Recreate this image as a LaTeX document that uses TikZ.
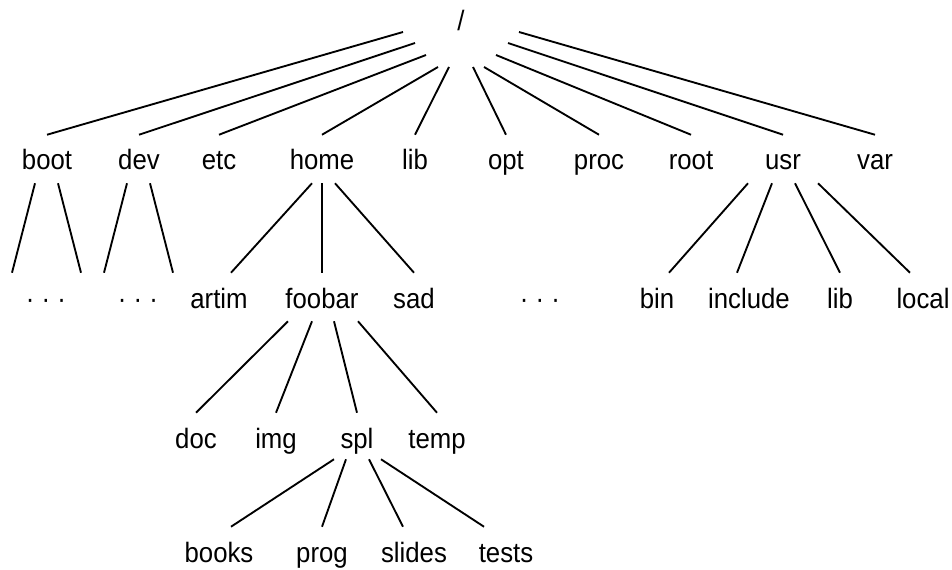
\documentclass[tikz,border=0pt]{standalone}
\usepackage{fontspec}
\setmainfont{Liberation Sans}[FakeStretch=0.92]

\begin{document}
\begin{tikzpicture}[x=0.75pt,y=0.75pt,yscale=-1,xscale=1,
  dir/.style={anchor=base,inner sep=0pt,text height=26.25pt,text depth=9.75pt,font=\fontsize{21}{25}\selectfont},
  link/.style={line width=1.4pt}]
%set diagram left start at 0, and has height of 570
\useasboundingbox (0,0) rectangle (952,570);

% Text Node: top
\node[dir] (slash) at (461,31) {/};
% Text Node: first level
\node[dir] (boot) at (47,170) {boot};
\node[dir] (dev) at (139,170) {dev};
\node[dir] (etc) at (219,170) {etc};
\node[dir] (home) at (322,170) {home};
\node[dir] (libA) at (415,170) {lib};
\node[dir] (opt) at (506,170) {opt};
\node[dir] (proc) at (599,170) {proc};
\node[dir] (rootdir) at (691,170) {root};
\node[dir] (usr) at (783,170) {usr};
\node[dir] (var) at (875,170) {var};
% Text Node: second level
\node[dir] (dotsboot) at (46,308) {· · ·};
\node[dir] (dotsdev) at (138,308) {· · ·};
\node[dir] (artim) at (219,308) {artim};
\node[dir] (foobar) at (322,308) {foobar};
\node[dir] (sad) at (414,308) {sad};
\node[dir] (dotsmid) at (540,308) {· · ·};
\node[dir] (bin) at (657,308) {bin};
\node[dir] (include) at (749,308) {include};
\node[dir] (libB) at (840,308) {lib};
\node[dir] (local) at (923,308) {local};
% Text Node: third level
\node[dir] (doc) at (196,448) {doc};
\node[dir] (img) at (276,448) {img};
\node[dir] (spl) at (357,448) {spl};
\node[dir] (temp) at (437,448) {temp};
% Text Node: fourth level
\node[dir] (books) at (219,562) {books};
\node[dir] (prog) at (322,562) {prog};
\node[dir] (slides) at (414,562) {slides};
\node[dir] (tests) at (506,562) {tests};

%Straight Lines: from /
\draw[link] ([shift={(-58,1)}]slash.base) -- (boot.north);
\draw[link] ([shift={(-46,12)}]slash.base) -- (dev.north);
\draw[link] ([shift={(-35,24)}]slash.base) -- (etc.north);
\draw[link] ([shift={(-23,36)}]slash.base) -- (home.north);
\draw[link] ([shift={(-12,36)}]slash.base) -- (libA.north);
\draw[link] ([shift={(12,36)}]slash.base) -- (opt.north);
\draw[link] ([shift={(23,36)}]slash.base) -- (proc.north);
\draw[link] ([shift={(35,24)}]slash.base) -- (rootdir.north);
\draw[link] ([shift={(47,12)}]slash.base) -- (usr.north);
\draw[link] ([shift={(58,1)}]slash.base) -- (var.north);
%Straight Lines: from boot and dev
\draw[link] ([shift={(-12,0)}]boot.south) -- ([shift={(-34,0)}]dotsboot.north);
\draw[link] ([shift={(11,0)}]boot.south) -- ([shift={(35,0)}]dotsboot.north);
\draw[link] ([shift={(-12,0)}]dev.south) -- ([shift={(-34,0)}]dotsdev.north);
\draw[link] ([shift={(11,0)}]dev.south) -- ([shift={(35,0)}]dotsdev.north);
%Straight Lines: from home
\draw[link] ([shift={(-10,0)}]home.south) -- ([shift={(12,0)}]artim.north);
\draw[link] (home.south) -- (foobar.north);
\draw[link] ([shift={(13,0)}]home.south) -- (sad.north);
%Straight Lines: from usr
\draw[link] ([shift={(-35,0)}]usr.south) -- ([shift={(12,0)}]bin.north);
\draw[link] ([shift={(-11,0)}]usr.south) -- ([shift={(-12,0)}]include.north);
\draw[link] ([shift={(12,0)}]usr.south) -- (libB.north);
\draw[link] ([shift={(35,0)}]usr.south) -- ([shift={(-13,0)}]local.north);
%Straight Lines: from foobar
\draw[link] ([shift={(-34,0)}]foobar.south) -- (doc.north);
\draw[link] ([shift={(-10,0)}]foobar.south) -- (img.north);
\draw[link] ([shift={(12,0)}]foobar.south) -- (spl.north);
\draw[link] ([shift={(36,0)}]foobar.south) -- (temp.north);
%Straight Lines: from spl
\draw[link] ([shift={(-23,-2)}]spl.south) -- ([shift={(12,0)}]books.north);
\draw[link] ([shift={(-11,-2)}]spl.south) -- (prog.north);
\draw[link] ([shift={(12,-2)}]spl.south) -- ([shift={(-11,0)}]slides.north);
\draw[link] ([shift={(24,-2)}]spl.south) -- ([shift={(-22,0)}]tests.north);

\end{tikzpicture}
\end{document}
